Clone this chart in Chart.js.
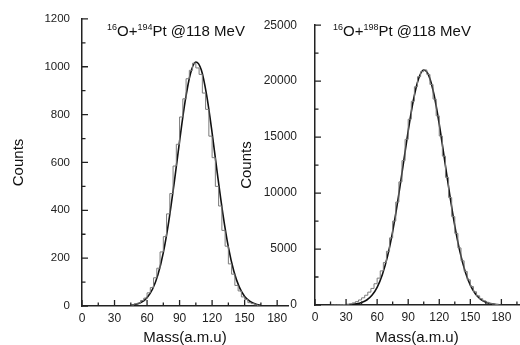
<!DOCTYPE html>
<html>
<head>
<meta charset="utf-8">
<script src="https://cdn.jsdelivr.net/npm/chart.js@4.4.1/dist/chart.umd.min.js"></script>
<style>
  html, body { margin: 0; padding: 0; background: #fff; }
  #wrap { position: relative; width: 520px; height: 345px; overflow: hidden; }
  #left { position: absolute; left: 0; top: 0; }
  #right { position: absolute; left: 230px; top: 0; }
</style>
</head>
<body>
<div id="wrap">
  <canvas id="left" width="300" height="345"></canvas>
  <canvas id="right" width="290" height="345"></canvas>
</div>
<script>
// 16O+194Pt : histogram (bin left edges / counts) and gaussian fit
const binsA = [45,48,51,54,57,60,63,66,69,72,75,78,81,84,87,90,93,96,99,102,105,108,111,114,117,120,123,126,129,132,135,138,141,144,147,150,153,156,159,162,165];
const histA = [3,4,9,12,23,33,55,77,118,158,226,290,385,470,585,676,790,866,950,985,1015,995,968,890,822,710,620,500,418,316,250,176,133,86,63,38,27,14,10,5,0];
const fitXA = [45,50,55,60,65,70,75,80,85,90,95,100,105,110,115,120,125,130,135,140,145,150,155,160,165];
const fitYA = [3,7,16,35,70,130,223,353,514,689,852,971,1020,987,880,724,548,383,246,146,80,40,19,8,3];

// 16O+198Pt
const binsB = [15,18,21,24,27,30,33,36,39,42,45,48,51,54,57,60,63,66,69,72,75,78,81,84,87,90,93,96,99,102,105,108,111,114,117,120,123,126,129,132,135,138,141,144,147,150,153,156,159,162,165,168,171,174,177,180];
const histB = [0,5,10,15,25,40,70,110,190,300,450,640,870,1150,1480,1900,2400,3050,3800,4800,6000,7500,9200,11000,12900,14800,16600,18200,19500,20400,20850,21000,20600,19700,18400,16900,15100,13300,11400,9600,7900,6400,5100,3950,3000,2250,1650,1180,820,560,370,240,150,90,50,0];
const fitXB = [15,20,25,30,35,40,45,50,55,60,65,70,75,80,85,90,95,100,105,110,115,120,125,130,135,140,145,150,155,160,165,170,175,180];
const fitYB = [1,2,6,17,42,98,217,447,866,1580,2703,4348,6565,9316,12422,15557,18296,20221,21000,20475,18760,16150,13060,9920,7077,4744,2988,1769,983,512,251,116,50,20];

Chart.defaults.font.family = '"Liberation Sans", Arial, sans-serif';
Chart.defaults.color = '#222';

// ticks pointing into the plot, with minor ticks in between
const innerTicks = {
  id: 'innerTicks',
  afterDraw(chart, args, opts) {
    const ctx = chart.ctx;
    const xs = chart.scales.x, ys = chart.scales.y;
    ctx.save();
    ctx.strokeStyle = '#222';
    ctx.lineWidth = 1.3;
    ctx.beginPath();
    for (let v = 0; v <= xs.max; v += opts.xStep / 2) {
      const len = v % opts.xStep === 0 ? 6 : 3.5;
      const px = xs.getPixelForValue(v);
      ctx.moveTo(px, ys.bottom);
      ctx.lineTo(px, ys.bottom - len);
    }
    for (let v = 0; v <= ys.max; v += opts.yStep / 2) {
      const len = v % opts.yStep === 0 ? 6 : 3.5;
      const py = ys.getPixelForValue(v);
      ctx.moveTo(xs.left, py);
      ctx.lineTo(xs.left + len, py);
    }
    ctx.stroke();
    ctx.restore();
  }
};

// reaction label with superscript mass numbers
const reactionTitle = {
  id: 'reactionTitle',
  afterDraw(chart, args, opts) {
    const ctx = chart.ctx;
    let x = opts.x;
    ctx.save();
    ctx.fillStyle = '#111';
    ctx.textBaseline = 'alphabetic';
    opts.parts.forEach(p => {
      ctx.font = (p.sup ? '9px' : '15px') + ' "Liberation Sans", Arial, sans-serif';
      ctx.fillText(p.text, x, p.sup ? opts.y - 6 : opts.y);
      x += ctx.measureText(p.text).width;
    });
    ctx.restore();
  }
};

function makePanel(id, bins, hist, fitX, fitY, o) {
  const ctx = document.getElementById(id).getContext('2d');
  return new Chart(ctx, {
    type: 'line',
    data: {
      datasets: [{
        data: bins.map((b, i) => ({ x: b, y: hist[i] })),
        borderColor: '#7a7a7a',
        borderWidth: 1,
        stepped: 'after',
        pointRadius: 0,
        fill: false
      }, {
        data: fitX.map((v, i) => ({ x: v, y: fitY[i] })),
        borderColor: '#111',
        borderWidth: 1.6,
        cubicInterpolationMode: 'monotone',
        pointRadius: 0,
        fill: false
      }]
    },
    options: {
      responsive: false,
      animation: false,
      devicePixelRatio: 1,
      layout: { padding: { top: 16, right: o.padRight, left: 0, bottom: 0 } },
      plugins: {
        legend: { display: false },
        tooltip: { enabled: false },
        innerTicks: { xStep: 30, yStep: o.yStep },
        reactionTitle: { x: o.titleX, y: 35.5, parts: o.title }
      },
      scales: {
        x: {
          type: 'linear',
          min: 0,
          max: o.xMax,
          grid: { display: false, drawTicks: false },
          border: { display: true, color: '#222', width: 1.5 },
          ticks: { stepSize: 30, includeBounds: false, padding: 5, maxRotation: 0, autoSkip: false, font: { size: 12 },
                   callback: v => String(v) },
          title: { display: true, text: 'Mass(a.m.u)', color: '#111', font: { size: 15, lineHeight: 1 }, padding: { top: 0, bottom: 0 } },
          afterFit(s) { s.height = o.xHeight; }
        },
        y: {
          min: 0,
          max: o.yMax,
          grid: { display: false, drawTicks: false },
          border: { display: true, color: '#222', width: 1.5 },
          ticks: { stepSize: o.yStep, padding: o.yPad, font: { size: o.yFont }, callback: v => String(v) },
          title: { display: true, text: 'Counts', color: '#111', font: { size: 15, lineHeight: 1 }, padding: { top: o.yTitlePad, bottom: 0 } },
          afterFit(s) { s.width = o.yWidth; }
        }
      }
    },
    plugins: [innerTicks, reactionTitle]
  });
}

makePanel('left', binsA, histA, fitXA, fitYA, {
  xMax: 190, yMax: 1200, yStep: 200, padRight: 12, xHeight: 39,
  yWidth: 82, yPad: 12, yFont: 11.5, yTitlePad: 11.5, titleX: 107,
  title: [{ text: '16', sup: true }, { text: 'O+' }, { text: '194', sup: true }, { text: 'Pt @118 MeV' }]
});

makePanel('right', binsB, histB, fitXB, fitYB, {
  xMax: 197, yMax: 25000, yStep: 5000, padRight: 1, xHeight: 40,
  yWidth: 85, yPad: 18, yFont: 12, yTitlePad: 9.5, titleX: 103,
  title: [{ text: '16', sup: true }, { text: 'O+' }, { text: '198', sup: true }, { text: 'Pt @118 MeV' }]
});
</script>
</body>
</html>
